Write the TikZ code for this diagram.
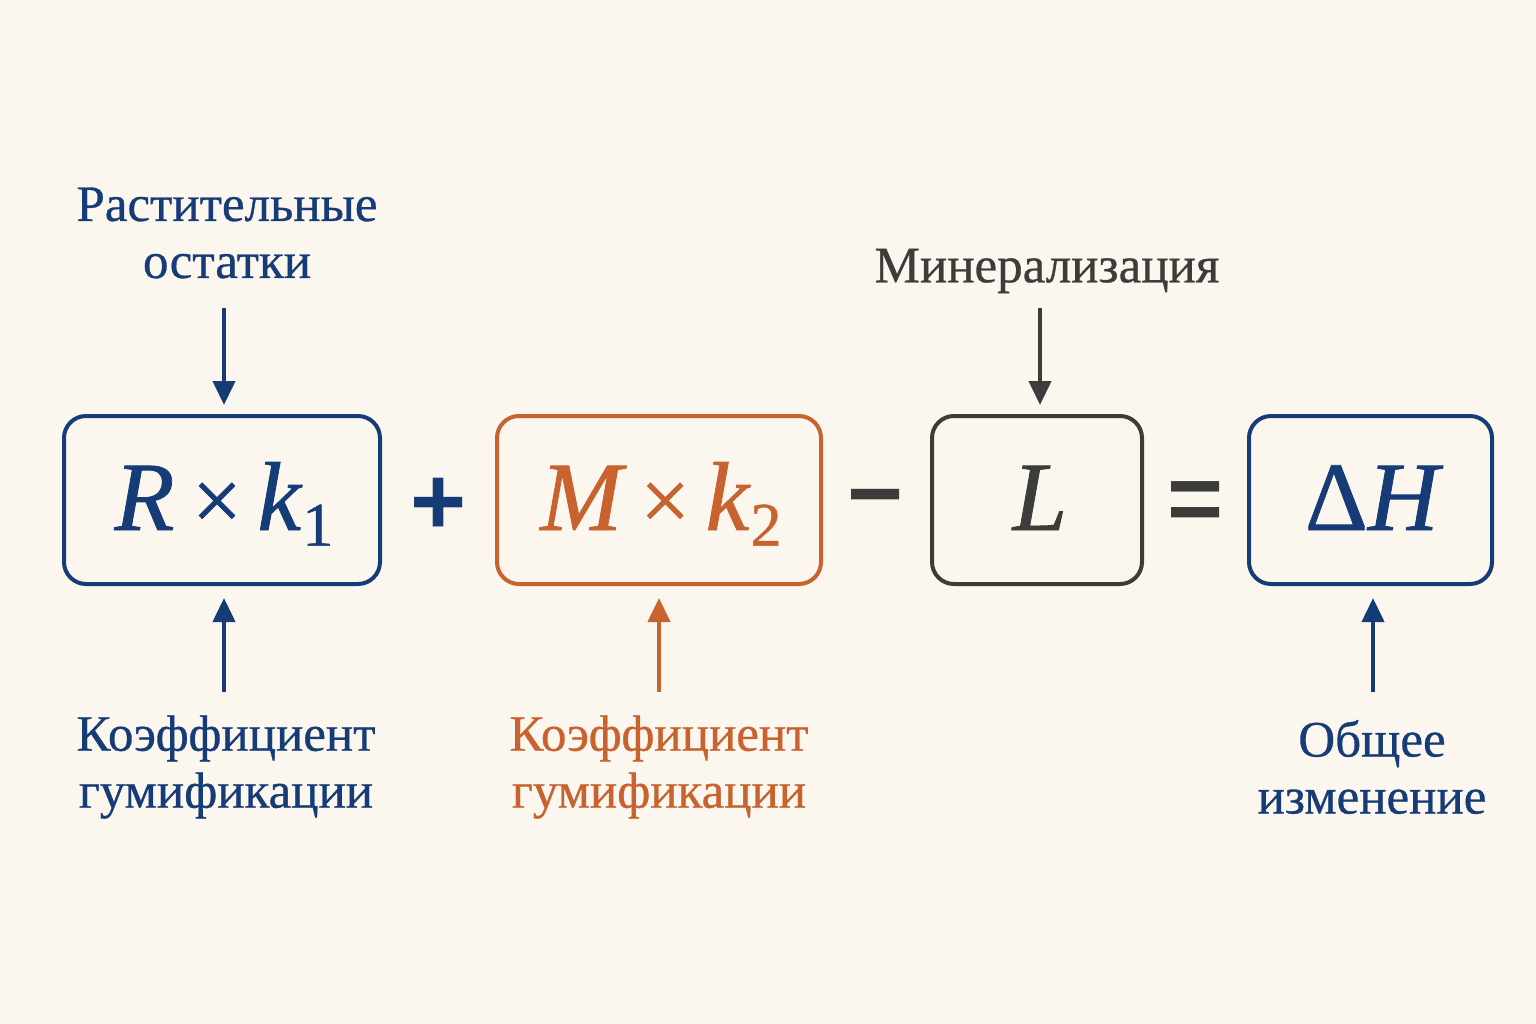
\documentclass[tikz,border=0pt]{standalone}
\usepackage{fontspec}
\setmainfont{Liberation Serif}
\newfontfamily\lblfont[FakeBold=0.6]{Liberation Serif}
\newfontfamily\mthfont[FakeBold=0.8]{Liberation Serif}
\newfontfamily\opfont{Liberation Sans}
\usetikzlibrary{arrows.meta}
\definecolor{bgc}{HTML}{FBF7EE}
\definecolor{blu}{HTML}{163C78}
\definecolor{org}{HTML}{C8622F}
\definecolor{gry}{HTML}{3C3D3A}
\tikzset{
  box/.style={draw, line width=4pt, rounded corners=22pt, inner sep=0pt},
  lbl/.style={font=\lblfont\fontsize{51}{57}\selectfont, align=center, inner sep=0pt},
  mth/.style={font=\mthfont\fontsize{98}{100}\selectfont, inner sep=0pt, anchor=base},
  oper/.style={font=\opfont\bfseries\fontsize{96}{100}\selectfont, inner sep=0pt},
  arr/.style={line width=4pt, -{Triangle[width=22pt,length=24pt]}},
}
\begin{document}
\begin{tikzpicture}[x=1pt,y=-1pt]
\fill[bgc] (0,0) rectangle (1536,1024);
\useasboundingbox (0,0) rectangle (1536,1024);
% boxes
\node[box, blu, minimum width=316pt, minimum height=168pt] (b1) at (222,500) {};
\node[box, org, minimum width=324pt, minimum height=168pt] (b2) at (659,500) {};
\node[box, gry, minimum width=210pt, minimum height=168pt] (b3) at (1037,500) {};
\node[box, blu, minimum width=243pt, minimum height=168pt] (b4) at (1370.5,500) {};
% contents
\node[mth, blu] (t1) at (224,530) {\textit{R}\hspace{0.18em}{\fontsize{88}{88}\selectfont×}\hspace{0.16em}\textit{k}\raisebox{-0.16em}{\fontsize{62}{62}\selectfont 1}};
\node[mth, org] (t2) at (661,530) {\textit{M}\hspace{0.14em}{\fontsize{88}{88}\selectfont×}\hspace{0.16em}\textit{k}\raisebox{-0.16em}{\fontsize{62}{62}\selectfont 2}};
\node[mth, gry] (t3) at (1040,530) {\textit{L}};
\node[mth, blu] (t4) at (1374,530) {Δ\textit{H}};
% operators
\node[oper, blu] (p) at (439,506) {+};
\node[oper, gry] (m) at (876,508) {−};
\node[oper, gry] (e) at (1196,507) {=};
% labels
\node[lbl, blu] (l1) at (227,233) {Растительные\\остатки};
\node[lbl, gry] (l3) at (1047,271) {Минерализация};
\node[lbl, blu] (l5) at (226,767) {Коэффициент\\гумификации};
\node[lbl, org] (l6) at (659,767) {Коэффициент\\гумификации};
\node[lbl, blu] (l7) at (1372,767) {Общее\\изменение};
% arrows
\coordinate (a1s) at (224,308);
\coordinate (a1e) at (224,405);
\coordinate (a3s) at (1040,308);
\coordinate (a3e) at (1040,405);
\coordinate (a5s) at (224,692);
\coordinate (a5e) at (224,598);
\coordinate (a6s) at (659,692);
\coordinate (a6e) at (659,598);
\coordinate (a7s) at (1373,692);
\coordinate (a7e) at (1373,598);
\draw[arr, blu] (a1s) -- (a1e);
\draw[arr, gry] (a3s) -- (a3e);
\draw[arr, blu] (a5s) -- (a5e);
\draw[arr, org] (a6s) -- (a6e);
\draw[arr, blu] (a7s) -- (a7e);
\end{tikzpicture}
\end{document}
